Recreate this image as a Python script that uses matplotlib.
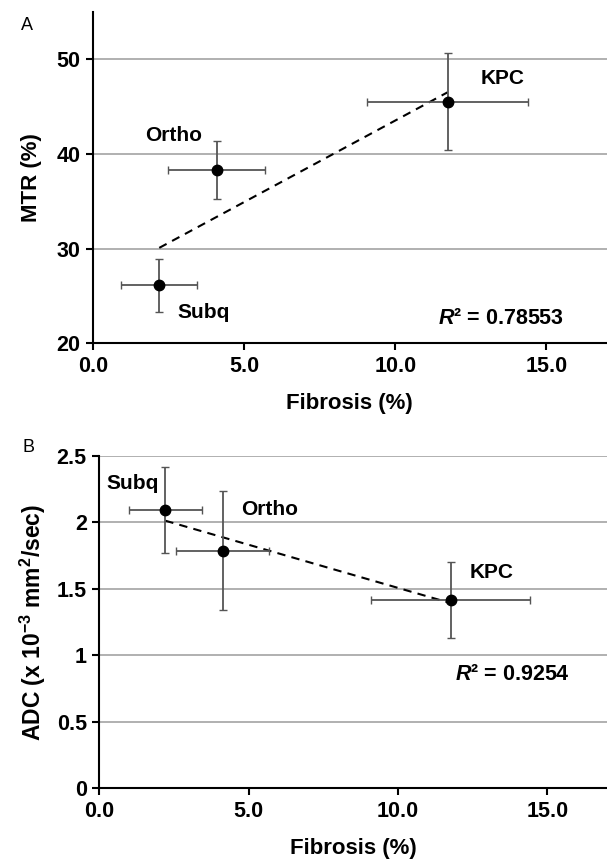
import numpy as np
import matplotlib
matplotlib.use("Agg")
import matplotlib.pyplot as plt

plt.rcParams['font.family'] = ['Liberation Sans', 'DejaVu Sans']
plt.rcParams['mathtext.fontset'] = 'custom'
plt.rcParams['mathtext.rm'] = 'Liberation Sans:bold'
plt.rcParams['mathtext.it'] = 'Liberation Sans:italic:bold'

# data
groups = ["Subq", "Ortho", "KPC"]
fibrosis = [2.2, 4.1, 11.73]
fibrosis_err = [1.25, 1.6, 2.66]
mtr = [26.1, 38.3, 45.5]
mtr_err = [2.75, 3.1, 5.15]
fibrosis_b = [2.21, 4.13, 11.76]
fibrosis_b_err = [1.23, 1.56, 2.65]
adc = [2.094, 1.788, 1.414]
adc_err = [0.32, 0.45, 0.285]
mtr_ticks = [20, 30, 40, 50]
adc_ticks = [0, 0.5, 1, 1.5, 2, 2.5]
adc_ticklabels = ["0", "0.5", "1", "1.5", "2", "2.5"]
x_ticks = [0, 5, 10, 15]
x_ticklabels = ["0.0", "5.0", "10.0", "15.0"]

fig = plt.figure(figsize=(6.07, 8.64), dpi=100)
axA = fig.add_axes([0.1527, 0.6027, 1.0 - 0.1527, 0.9865 - 0.6027])
axB = fig.add_axes([0.1636, 0.0876, 1.0 - 0.1636, 0.4722 - 0.0876])


def style(ax, yticks, ylabels):
    for s in ['top', 'right']:
        ax.spines[s].set_visible(False)
    for s in ['left', 'bottom']:
        ax.spines[s].set_linewidth(1.5)
    ax.set_xlim(0, 17)
    ax.set_xticks(x_ticks)
    ax.set_xticklabels(x_ticklabels, fontsize=15.5, fontweight='bold')
    ax.set_yticks(yticks)
    ax.set_yticklabels(ylabels, fontsize=15.5, fontweight='bold')
    ax.tick_params(direction='out', length=5, width=1.5, pad=4)
    for t in yticks[1:]:
        ax.axhline(t, color='#aaaaaa', lw=1.3, zorder=0)


def trend(ax, x, y):
    k, b = np.polyfit(x, y, 1)
    xs = np.array([min(x), max(x)])
    ax.plot(xs, k * xs + b, color='black', lw=1.5, ls=(0, (4, 3)), zorder=3)


# Panel A
style(axA, mtr_ticks, [str(t) for t in mtr_ticks])
axA.set_ylim(20, 55)
axA.errorbar(fibrosis, mtr, xerr=fibrosis_err, yerr=mtr_err, fmt='o', color='black',
             ms=7.5, ecolor='#555555', elinewidth=1.3, capsize=3, capthick=1, zorder=4)
trend(axA, fibrosis, mtr)
axA.set_xlabel("Fibrosis (%)", fontsize=16, fontweight='bold', labelpad=12)
axA.set_ylabel("MTR (%)", fontsize=16, fontweight='bold', labelpad=10)
axA.text(13.55, 47.96, "KPC", fontsize=15, fontweight='bold', ha='center', va='center')
axA.text(2.69, 41.9, "Ortho", fontsize=15, fontweight='bold', ha='center', va='center')
axA.text(3.68, 23.2, "Subq", fontsize=15, fontweight='bold', ha='center', va='center')
axA.text(13.49, 22.6, r"$\mathit{R}$² = 0.78553", fontsize=15.5, fontweight='bold',
         ha='center', va='center')
fig.text(27 / 607, 1 - 25 / 864, "A", fontsize=13, ha='center', va='center')

# Panel B
style(axB, adc_ticks, adc_ticklabels)
axB.set_ylim(0, 2.5)
axB.errorbar(fibrosis_b, adc, xerr=fibrosis_b_err, yerr=adc_err, fmt='o', color='black',
             ms=7.5, ecolor='#555555', elinewidth=1.3, capsize=3, capthick=1, zorder=4)
trend(axB, fibrosis_b, adc)
axB.set_xlabel("Fibrosis (%)", fontsize=16, fontweight='bold', labelpad=12)
axB.set_ylabel("ADC (x 10$^{-3}$ mm$^{2}$/sec)", fontsize=16.5, fontweight='bold', labelpad=6)
axB.text(1.13, 2.29, "Subq", fontsize=15, fontweight='bold', ha='center', va='center')
axB.text(5.71, 2.10, "Ortho", fontsize=15, fontweight='bold', ha='center', va='center')
axB.text(13.12, 1.625, "KPC", fontsize=15, fontweight='bold', ha='center', va='center')
axB.text(13.83, 0.853, r"$\mathit{R}$² = 0.9254", fontsize=15.5, fontweight='bold',
         ha='center', va='center')
fig.text(28 / 607, 1 - 448 / 864, "B", fontsize=13, ha='center', va='center')

fig.savefig("out.png", dpi=100)
